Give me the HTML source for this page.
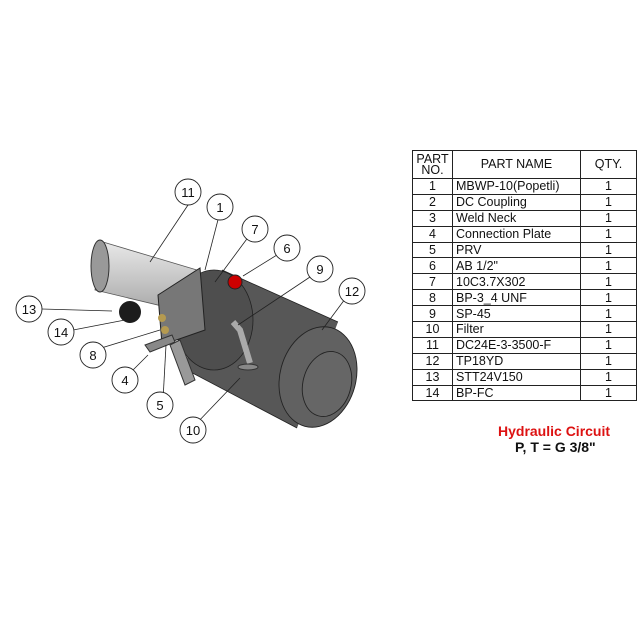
<!DOCTYPE html>
<html><head><style>
body{margin:0;background:#fff;width:640px;height:640px;overflow:hidden;position:relative;font-family:"Liberation Sans",sans-serif}
table{position:absolute;left:412px;top:150px;border-collapse:collapse;font-size:12.5px;color:#111}
td{border:1px solid #222;height:14.9px;padding:0;line-height:14px}
td.n{width:39px;text-align:center}
td.m{width:124px;padding-left:3px}
td.q{width:55px;text-align:center}
.h td{height:27px;text-align:center;line-height:11px;padding-left:0}
.t1{position:absolute;left:498px;top:423px;color:#d11;font-weight:bold;font-size:14px}
.t2{position:absolute;left:515px;top:439px;color:#111;font-weight:bold;font-size:14px}
</style></head><body>
<svg width="400" height="640" style="position:absolute;left:0;top:0">
<defs>
<linearGradient id="m" x1="0" y1="0" x2="0" y2="1"><stop offset="0" stop-color="#e8e8e8"/><stop offset="1" stop-color="#a8a8a8"/></linearGradient></defs>
<!-- motor -->
<path d="M103,242 L197,270 L187,312 L95,290 Z" fill="url(#m)" stroke="#555" stroke-width="0.8"/>
<ellipse cx="100" cy="266" rx="9" ry="26" fill="#999" stroke="#333"/>
<!-- tank -->
<path d="M222,270 L338,322 L297,428 L183,368 Z" fill="#575757"/>
<ellipse cx="214" cy="320" rx="39" ry="50" fill="#4e4e4e" stroke="#222" stroke-width="0.8"/>
<path d="M222,270 L338,322" stroke="#222" stroke-width="0.8"/>
<path d="M183,368 L297,428" stroke="#222" stroke-width="0.8"/>
<ellipse cx="318" cy="377" rx="38" ry="51" transform="rotate(15 318 377)" fill="#616161" stroke="#222" stroke-width="0.9"/>
<ellipse cx="327" cy="384" rx="24" ry="33" transform="rotate(15 327 384)" fill="#666" stroke="#222" stroke-width="0.9"/>
<!-- pump block -->
<path d="M158,295 L200,268 L205,330 L162,345 Z" fill="#777" stroke="#222"/>
<circle cx="162" cy="318" r="4" fill="#b59a50"/><circle cx="165" cy="330" r="4" fill="#b59a50"/>
<path d="M145,345 L172,335 L175,342 L150,352 Z" fill="#888" stroke="#333"/>
<path d="M170,345 L185,385 L195,380 L180,340 Z" fill="#999" stroke="#333"/>
<circle cx="235" cy="282" r="7" fill="#c00" stroke="#222"/>
<circle cx="130" cy="312" r="11" fill="#1c1c1c"/>
<path d="M233,322 L240,330 L250,363" stroke="#aaa" stroke-width="6" fill="none"/>
<ellipse cx="248" cy="367" rx="10" ry="3" fill="#888" stroke="#333"/>
<g stroke="#222" fill="none" stroke-width="0.8">
<line x1="188" y1="205" x2="150" y2="262"/><line x1="220" y1="212" x2="205" y2="270"/>
<line x1="252" y1="232" x2="215" y2="282"/><line x1="285" y1="250" x2="243" y2="276"/>
<line x1="316" y1="273" x2="238" y2="325"/><line x1="348" y1="295" x2="322" y2="330"/>
<line x1="42" y1="309" x2="112" y2="311"/><line x1="68" y1="331" x2="125" y2="320"/>
<line x1="98" y1="349" x2="160" y2="330"/><line x1="128" y1="375" x2="148" y2="355"/>
<line x1="163" y1="400" x2="166" y2="345"/><line x1="195" y1="425" x2="240" y2="378"/>
</g>
<g fill="#fff" stroke="#222" stroke-width="0.9">
<circle cx="188" cy="192" r="13"/><circle cx="220" cy="207" r="13"/><circle cx="255" cy="229" r="13"/>
<circle cx="287" cy="248" r="13"/><circle cx="320" cy="269" r="13"/><circle cx="352" cy="291" r="13"/>
<circle cx="29" cy="309" r="13"/><circle cx="61" cy="332" r="13"/><circle cx="93" cy="355" r="13"/>
<circle cx="125" cy="380" r="13"/><circle cx="160" cy="405" r="13"/><circle cx="193" cy="430" r="13"/>
</g>
<g font-size="13" text-anchor="middle" font-family="Liberation Sans" fill="#111">
<text x="188" y="197">11</text><text x="220" y="212">1</text><text x="255" y="234">7</text>
<text x="287" y="253">6</text><text x="320" y="274">9</text><text x="352" y="296">12</text>
<text x="29" y="314">13</text><text x="61" y="337">14</text><text x="93" y="360">8</text>
<text x="125" y="385">4</text><text x="160" y="410">5</text><text x="193" y="435">10</text>
</g>
</svg>
<table>
<tr class="h"><td class="n">PART<br>NO.</td><td class="m" style="padding-left:0">PART NAME</td><td class="q">QTY.</td></tr>
<tr><td class="n">1</td><td class="m">MBWP-10(Popetli)</td><td class="q">1</td></tr>
<tr><td class="n">2</td><td class="m">DC Coupling</td><td class="q">1</td></tr>
<tr><td class="n">3</td><td class="m">Weld Neck</td><td class="q">1</td></tr>
<tr><td class="n">4</td><td class="m">Connection Plate</td><td class="q">1</td></tr>
<tr><td class="n">5</td><td class="m">PRV</td><td class="q">1</td></tr>
<tr><td class="n">6</td><td class="m">AB 1/2"</td><td class="q">1</td></tr>
<tr><td class="n">7</td><td class="m">10C3.7X302</td><td class="q">1</td></tr>
<tr><td class="n">8</td><td class="m">BP-3_4 UNF</td><td class="q">1</td></tr>
<tr><td class="n">9</td><td class="m">SP-45</td><td class="q">1</td></tr>
<tr><td class="n">10</td><td class="m">Filter</td><td class="q">1</td></tr>
<tr><td class="n">11</td><td class="m">DC24E-3-3500-F</td><td class="q">1</td></tr>
<tr><td class="n">12</td><td class="m">TP18YD</td><td class="q">1</td></tr>
<tr><td class="n">13</td><td class="m">STT24V150</td><td class="q">1</td></tr>
<tr><td class="n">14</td><td class="m">BP-FC</td><td class="q">1</td></tr>
</table>
<div class="t1">Hydraulic Circuit</div>
<div class="t2">P, T = G 3/8"</div>
</body></html>
